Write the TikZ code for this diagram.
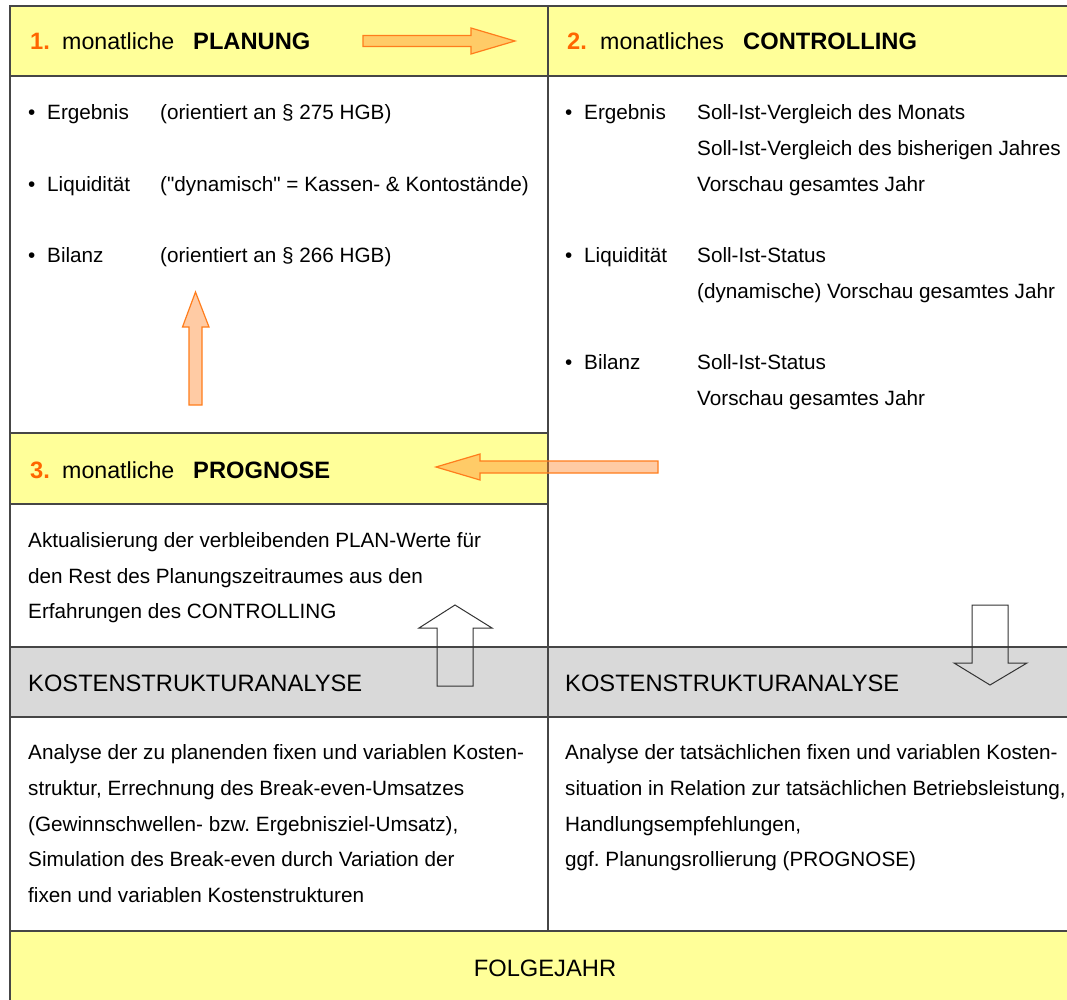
\documentclass[tikz,border=0pt]{standalone}
\usepackage{fontspec}
\setmainfont{Liberation Sans}[Ligatures=TeXOff]
\frenchspacing
\definecolor{paleyellow}{RGB}{255,255,153}
\definecolor{bandgray}{RGB}{217,217,217}
\definecolor{linegray}{RGB}{70,70,70}
\definecolor{numorange}{RGB}{255,102,0}
\definecolor{arroworange}{RGB}{255,125,28}
\begin{document}
\begin{tikzpicture}[x=1pt,y=-1pt,
  lin/.style={draw=linegray, line width=1.2pt},
  body/.style={anchor=base west, inner sep=0pt, font=\fontsize{20.7}{24}\selectfont},
  hd/.style={anchor=base west, inner sep=0pt, font=\fontsize{23.2}{27}\selectfont},
  hdl/.style={anchor=base west, inner sep=0pt, font=\fontsize{23.7}{27}\selectfont},
  hdb/.style={anchor=base west, inner sep=0pt, font=\fontsize{23.7}{27}\selectfont\bfseries},
  num/.style={hdb, text=numorange},
  blockarrow/.style={fill=arroworange, fill opacity=0.4, draw=arroworange, draw opacity=1, line width=1.2pt, line join=miter},
  hollow/.style={draw=black!80, line width=1pt, line join=miter}]
\useasboundingbox (0,0) rectangle (1067,1000);
% backgrounds
\fill[paleyellow] (10,6) rectangle (1067,76);
\fill[paleyellow] (10,433) rectangle (548,504);
\fill[bandgray] (10,647) rectangle (1067,717);
\fill[paleyellow] (10,931) rectangle (1067,1000);
% grid lines
\draw[lin] (1067,6) -- (10,6) -- (10,1000);
\draw[lin] (548,6) -- (548,931);
\draw[lin] (10,76) -- (1067,76);
\draw[lin] (10,433) -- (548,433);
\draw[lin] (10,504) -- (548,504);
\draw[lin] (10,647) -- (1067,647);
\draw[lin] (10,717) -- (1067,717);
\draw[lin] (10,931) -- (1067,931);
% block arrows
\draw[blockarrow] (363,35.5) -- (471,35.5) -- (471,28) -- (515,41) -- (471,54) -- (471,46.5) -- (363,46.5) -- cycle;
\draw[blockarrow] (189,405) -- (189,327) -- (182.5,327) -- (195.5,292) -- (209,327) -- (202,327) -- (202,405) -- cycle;
\draw[blockarrow] (658,461) -- (480,461) -- (480,454) -- (436,467) -- (480,480) -- (480,473) -- (658,473) -- cycle;
\draw[hollow] (437,686) -- (437,628) -- (419,628) -- (455,605) -- (492,628) -- (473,628) -- (473,686) -- cycle;
\draw[hollow] (972,605) -- (1008,605) -- (1008,663) -- (1027,663) -- (990,685) -- (954,663) -- (972,663) -- cycle;
% header 1
\node[num] (n1) at (30,50) {1.};
\node[hd] (h1a) at (62,50) {monatliche};
\node[hdb] (h1b) at (193,50) {PLANUNG};
% header 2
\node[num] (n2) at (567,50) {2.};
\node[hd] (h2a) at (600,50) {monatliches};
\node[hdb] (h2b) at (743,50) {CONTROLLING};
% left bullets
\node[body] (lb1) at (28,119.5) {•};
\node[body] (ll1) at (47,119.5) {Ergebnis};
\node[body] (lt1) at (160,119.5) {(orientiert an § 275 HGB)};
\node[body] (lb2) at (28,191.5) {•};
\node[body] (ll2) at (47,191.5) {Liquidität};
\node[body] (lt2) at (160,191.5) {("dynamisch" = Kassen- \& Kontostände)};
\node[body] (lb3) at (28,262.5) {•};
\node[body] (ll3) at (47,262.5) {Bilanz};
\node[body] (lt3) at (160,262.5) {(orientiert an § 266 HGB)};
% right bullets
\node[body] (rb1) at (565,119.5) {•};
\node[body] (rl1) at (584,119.5) {Ergebnis};
\node[body] (rt1) at (697,119.5) {Soll-Ist-Vergleich des Monats};
\node[body] (rt2) at (697,155.5) {Soll-Ist-Vergleich des bisherigen Jahres};
\node[body] (rt3) at (697,191.5) {Vorschau gesamtes Jahr};
\node[body] (rb2) at (565,262.5) {•};
\node[body] (rl2) at (584,262.5) {Liquidität};
\node[body] (rt4) at (697,262.5) {Soll-Ist-Status};
\node[body] (rt5) at (697,298.5) {(dynamische) Vorschau gesamtes Jahr};
\node[body] (rb3) at (565,369.5) {•};
\node[body] (rl3) at (584,369.5) {Bilanz};
\node[body] (rt6) at (697,369.5) {Soll-Ist-Status};
\node[body] (rt7) at (697,405.5) {Vorschau gesamtes Jahr};
% header 3
\node[num] (n3) at (30,478) {3.};
\node[hd] (h3a) at (62,478) {monatliche};
\node[hdb] (h3b) at (193,478) {PROGNOSE};
% prognose text
\node[body] (p1) at (28,547.5) {Aktualisierung der verbleibenden PLAN-Werte für};
\node[body] (p2) at (28,583.5) {den Rest des Planungszeitraumes aus den};
\node[body] (p3) at (28,618.5) {Erfahrungen des CONTROLLING};
% band
\node[hdl] (k1) at (28,691) {KOSTENSTRUKTURANALYSE};
\node[hdl] (k2) at (565,691) {KOSTENSTRUKTURANALYSE};
% lower texts
\node[body] (a1) at (28,759.5) {Analyse der zu planenden fixen und variablen Kosten-};
\node[body] (a2) at (28,795.5) {struktur, Errechnung des Break-even-Umsatzes};
\node[body] (a3) at (28,831.5) {(Gewinnschwellen- bzw. Ergebnisziel-Umsatz),};
\node[body] (a4) at (28,866.5) {Simulation des Break-even durch Variation der};
\node[body] (a5) at (28,902.5) {fixen und variablen Kostenstrukturen};
\node[body] (b1) at (565,759.5) {Analyse der tatsächlichen fixen und variablen Kosten-};
\node[body] (b2) at (565,795.5) {situation in Relation zur tatsächlichen Betriebsleistung,};
\node[body] (b3) at (565,831.5) {Handlungsempfehlungen,};
\node[body] (b4) at (565,866.5) {ggf. Planungsrollierung (PROGNOSE)};
% footer
\node[hdl, anchor=base] (f) at (545,976) {FOLGEJAHR};
\end{tikzpicture}
\end{document}
